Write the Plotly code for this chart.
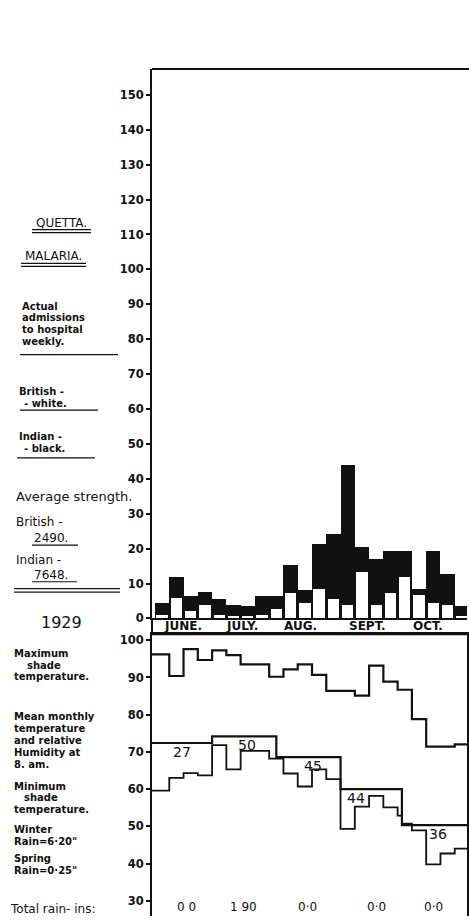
import plotly.graph_objects as go

# ---------------- data ----------------
weeks = list(range(22))
british_weekly = [1.1, 5.9, 2.1, 3.8, 1.1, 0.7, 0.7, 0.9, 2.8, 7.4, 4.5, 8.5, 5.5, 3.8, 13.3, 3.8, 7.4, 12.0, 6.6, 4.5, 3.8, 0.8]
indian_weekly = [3.4, 6.1, 4.3, 3.8, 4.4, 3.1, 2.9, 5.5, 3.6, 7.8, 3.7, 12.8, 18.8, 40.2, 7.1, 13.2, 12.0, 7.4, 1.7, 14.9, 9.0, 2.7]

max_temp_weekly = [96.2, 90.4, 97.6, 94.7, 97.3, 96.0, 93.5, 93.5, 90.2, 92.2, 93.5, 90.7,
                   86.4, 86.4, 85.1, 93.2, 88.9, 86.7, 78.8, 71.4, 71.4, 72.0]
min_temp_starts = [0, 1, 2, 3, 4, 5, 6, 8, 9, 10, 11, 12, 13, 14, 15, 16, 17, 17.3, 18, 19, 20, 21]
min_temp_values = [59.6, 63.0, 64.3, 63.7, 71.8, 65.3, 70.3, 68.2, 64.2, 60.7, 65.3, 62.7,
                   49.3, 55.3, 58.2, 55.1, 52.9, 50.7, 48.9, 39.8, 42.7, 44.0]
month_starts = [0, 4, 8.5, 13, 17.3]
mean_monthly_temp = [72.4, 74.2, 68.6, 60.0, 50.3]
humidity_8am = [27, 50, 45, 44, 36]
months = ["JUNE.", "JULY.", "AUG.", "SEPT.", "OCT."]
rain_labels = ["0 0", "1 90", "0·0", "0·0", "0·0"]
top_ticks = list(range(0, 151, 10))
bottom_ticks = list(range(30, 101, 10))

# ---------------- layout constants ----------------
W, H = 469, 923
L, R, T, B = 152, 467, 69, 923
XMIN, XMAX = -0.21, 21.86
FONT = "DejaVu Sans"
INK = "#111111"

month_label_x = [1.96, 6.1, 10.2, 14.9, 19.1]
humidity_label_x = [1.87, 6.47, 11.1, 14.1, 19.85]
rain_label_x = [2.2, 6.2, 10.7, 15.5, 19.5]


def px(x):
    return (x - L) / (R - L)


def py(y):
    return (B - y) / (B - T)


def xw(week):
    return (week - XMIN) / (XMAX - XMIN)


top_domain = [py(623), 1]
bot_domain = [0, py(639)]

fig = go.Figure()

totals = [b + i for b, i in zip(british_weekly, indian_weekly)]
centers = [w + 0.5 for w in weeks]
fig.add_trace(go.Bar(x=centers, y=totals, width=1.0, marker=dict(color=INK, line=dict(width=0)),
                     xaxis="x", yaxis="y", showlegend=False, hoverinfo="skip"))
fig.add_trace(go.Bar(x=centers, y=british_weekly, width=0.8, marker=dict(color="white", line=dict(width=0)),
                     xaxis="x", yaxis="y", showlegend=False, hoverinfo="skip"))


def step_trace(starts, vals, width):
    xs = [s if s > 0 else XMIN for s in starts] + [22]
    ys = list(vals) + [vals[-1]]
    return go.Scatter(x=xs, y=ys, mode="lines", line=dict(shape="hv", color=INK, width=width),
                      xaxis="x2", yaxis="y2", showlegend=False, hoverinfo="skip")


fig.add_trace(step_trace(weeks, max_temp_weekly, 2.2))
fig.add_trace(step_trace(month_starts, mean_monthly_temp, 2.2))
fig.add_trace(step_trace(min_temp_starts, min_temp_values, 1.8))

annotations = []
for hx, mt, hv in zip(humidity_label_x, mean_monthly_temp, humidity_8am):
    annotations.append(dict(x=hx, y=mt - 2.4, xref="x2", yref="y2", text=str(hv), showarrow=False,
                            font=dict(family=FONT, size=14, color=INK), xanchor="center", yanchor="middle"))
for rx, rl in zip(rain_label_x, rain_labels):
    annotations.append(dict(x=rx, y=28.2, xref="x2", yref="y2", text=rl, showarrow=False,
                            font=dict(family=FONT, size=12, color=INK), xanchor="center", yanchor="middle"))
for mx, mname in zip(month_label_x, months):
    annotations.append(dict(x=xw(mx), y=py(631), xref="paper", yref="paper", text=mname, showarrow=False,
                            font=dict(family=FONT, size=12, color=INK, weight="bold"),
                            xanchor="center", yanchor="middle"))

left_texts = [
    ("QUETTA.", 61, 224, "center", 12, "normal"),
    ("MALARIA.", 53, 258, "center", 12, "normal"),
    ("Actual", 20, 308, "left", 10, "bold"),
    ("admissions", 20, 320, "left", 10, "bold"),
    ("to hospital", 20, 332, "left", 10, "bold"),
    ("weekly.", 20, 344, "left", 10, "bold"),
    ("British -", 17, 394, "left", 10, "bold"),
    ("- white.", 22, 406, "left", 10, "bold"),
    ("Indian -", 17, 440, "left", 10, "bold"),
    ("- black.", 22, 452, "left", 10, "bold"),
    ("Average strength.", 14, 500, "left", 13, "normal"),
    ("British -", 14, 526, "left", 12, "normal"),
    ("2490.", 32, 542, "left", 12, "normal"),
    ("Indian -", 14, 564, "left", 12, "normal"),
    ("7648.", 32, 579, "left", 12, "normal"),
    ("1929", 61, 627, "center", 16, "normal"),
    ("Maximum", 12, 658, "left", 10, "bold"),
    ("shade", 25, 670, "left", 10, "bold"),
    ("temperature.", 12, 682, "left", 10, "bold"),
    ("Mean monthly", 12, 722, "left", 10, "bold"),
    ("temperature", 12, 734, "left", 10, "bold"),
    ("and relative", 12, 746, "left", 10, "bold"),
    ("Humidity at", 12, 758, "left", 10, "bold"),
    ("8. am.", 12, 770, "left", 10, "bold"),
    ("Minimum", 12, 792, "left", 10, "bold"),
    ("shade", 22, 804, "left", 10, "bold"),
    ("temperature.", 12, 816, "left", 10, "bold"),
    ("Winter", 12, 836, "left", 10, "bold"),
    ("Rain=6·20\"", 12, 848, "left", 10, "bold"),
    ("Spring", 12, 865, "left", 10, "bold"),
    ("Rain=0·25\"", 12, 877, "left", 10, "bold"),
    ("Total rain- ins:", 8, 916, "left", 12, "normal"),
]
for txt, x, y, anc, size, wt in left_texts:
    annotations.append(dict(x=px(x), y=py(y), xref="paper", yref="paper", text=txt, showarrow=False,
                            font=dict(family=FONT, size=size, color=INK, weight=wt),
                            xanchor=anc, yanchor="middle"))

shapes = []


def hline(x0, x1, y, w=1.2):
    shapes.append(dict(type="line", xref="paper", yref="paper", x0=px(x0), x1=px(x1), y0=py(y), y1=py(y),
                       line=dict(color=INK, width=w)))


# double underlines
hline(32, 91, 231); hline(32, 91, 234)
hline(21, 86, 265); hline(21, 86, 268)
hline(14, 120, 593); hline(14, 120, 596.5)
# single underlines
hline(20, 118, 357)
hline(20, 98, 413)
hline(17, 95, 461)
hline(32, 78, 549)
hline(32, 77, 586)
# left axis through month band
shapes.append(dict(type="line", xref="paper", yref="paper", x0=0, x1=0, y0=py(623), y1=py(639),
                   line=dict(color=INK, width=2)))
# top border line extends to page edge
shapes.append(dict(type="line", xref="paper", yref="paper", x0=0, x1=px(469), y0=1, y1=1,
                   line=dict(color=INK, width=2)))
# band bottom line extends to page edge
shapes.append(dict(type="line", xref="paper", yref="paper", x0=0, x1=px(469), y0=py(639), y1=py(639),
                   line=dict(color=INK, width=2)))

fig.update_layout(
    width=W, height=H,
    margin=dict(l=L, r=W - R, t=T, b=H - B),
    paper_bgcolor="white", plot_bgcolor="white",
    barmode="overlay", bargap=0,
    showlegend=False,
    annotations=annotations,
    shapes=shapes,
    xaxis=dict(domain=[0, 1], range=[XMIN, XMAX], anchor="y", showgrid=False, zeroline=False,
               showline=True, linecolor=INK, linewidth=2, mirror=False,
               showticklabels=False, ticks=""),
    yaxis=dict(domain=top_domain, range=[0, 157.4], anchor="x", showgrid=False, zeroline=False,
               showline=True, linecolor=INK, linewidth=2, mirror=False,
               tickvals=top_ticks, ticks="outside", ticklen=4, tickwidth=1.5, tickcolor=INK,
               tickfont=dict(family=FONT, size=11.5, color=INK, weight="bold")),
    xaxis2=dict(domain=[0, 1], range=[XMIN, XMAX], anchor="y2", side="top", showgrid=False, zeroline=False,
                showline=True, linecolor=INK, linewidth=2, mirror=False,
                showticklabels=False, ticks=""),
    yaxis2=dict(domain=bot_domain, range=[25.9, 101.6], anchor="x2", showgrid=False, zeroline=False,
                showline=True, linecolor=INK, linewidth=2, mirror=True,
                tickvals=bottom_ticks, ticks="outside", ticklen=4, tickwidth=1.5, tickcolor=INK,
                tickfont=dict(family=FONT, size=11.5, color=INK, weight="bold")),
)

fig.write_html("out.html")
